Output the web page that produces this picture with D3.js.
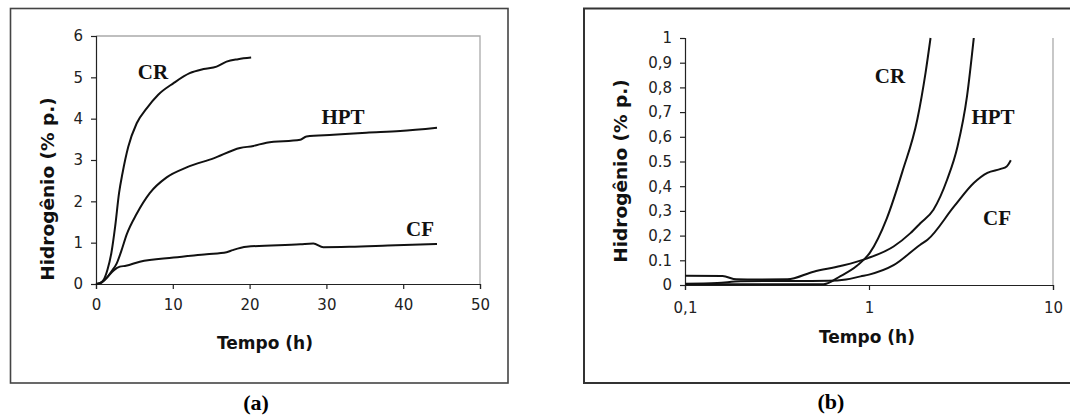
<!DOCTYPE html>
<html><head><meta charset="utf-8">
<script src="https://cdn.jsdelivr.net/npm/d3@7"></script>
<style>body{margin:0;background:#fff}svg{display:block}</style>
</head><body>
<svg id="c" width="1070" height="417"></svg>
<script>
// ---- Data (a): linear time axis ----
const aTicksX = [0, 10, 20, 30, 40, 50];
const aTicksY = [0, 1, 2, 3, 4, 5, 6];
const aCR_t = [0, 0.5, 1.0, 1.5, 2.0, 2.5, 3.0, 3.45, 4.2, 5.3, 6.6, 8.1, 10.1, 12.2, 14.0, 15.7, 17.0, 18.5, 20.2];
const aCR_h = [0, 0.02, 0.1, 0.35, 0.75, 1.4, 2.2, 2.68, 3.32, 3.89, 4.25, 4.58, 4.86, 5.1, 5.2, 5.26, 5.38, 5.44, 5.48];
const aHPT_t = [0, 0.5, 1.0, 1.4, 2.0, 2.7, 3.3, 4.0, 5.3, 7.0, 9.2, 11.8, 15.3, 18.75, 20.5, 22.2, 26.6, 27.4, 30.9, 35.2, 39.6, 44.4];
const aHPT_h = [0, 0.02, 0.08, 0.15, 0.3, 0.5, 0.8, 1.2, 1.7, 2.2, 2.58, 2.82, 3.04, 3.29, 3.34, 3.42, 3.49, 3.57, 3.61, 3.66, 3.7, 3.78];
const aCF_t = [0, 0.7, 1.4, 2.3, 3.1, 3.9, 5.7, 10.1, 14.4, 17.0, 17.8, 19.6, 26.6, 28.3, 29.6, 33.1, 38.0, 44.4];
const aCF_h = [0, 0.03, 0.15, 0.33, 0.42, 0.44, 0.54, 0.64, 0.72, 0.77, 0.82, 0.9, 0.96, 0.98, 0.89, 0.9, 0.93, 0.97];

// ---- Data (b): log time axis ----
const bTicksX = [0.1, 1, 10];
const bTicksXLabels = ["0,1", "1", "10"];
const bTicksY = [0, 0.1, 0.2, 0.3, 0.4, 0.5, 0.6, 0.7, 0.8, 0.9, 1];
const bTicksYLabels = ["0", "0.1", "0,2", "0,3", "0,4", "0.5", "0,6", "0,7", "0,8", "0,9", "1"];
const bHPT_t = [0.1, 0.16, 0.19, 0.25, 0.36, 0.5, 0.7, 0.98, 1.36, 1.68, 1.9, 2.24, 2.66, 3.03, 3.41, 3.71];
const bHPT_h = [0.037, 0.036, 0.023, 0.022, 0.023, 0.054, 0.077, 0.108, 0.156, 0.21, 0.25, 0.305, 0.427, 0.562, 0.765, 1.0];
const bCR_t = [0.1, 0.3, 0.566, 0.7, 0.86, 1.01, 1.25, 1.52, 1.83, 2.03, 2.16];
const bCR_h = [0.003, 0.003, 0.003, 0.036, 0.078, 0.13, 0.27, 0.46, 0.67, 0.86, 1.0];
const bCF_t = [0.1, 0.15, 0.2, 0.3, 0.6, 0.75, 0.9, 1.0, 1.36, 1.9, 2.08, 2.9, 3.71, 4.4, 5.2, 5.6, 5.9];
const bCF_h = [0.005, 0.008, 0.015, 0.016, 0.017, 0.022, 0.035, 0.042, 0.08, 0.163, 0.183, 0.318, 0.413, 0.454, 0.47, 0.48, 0.505];

const svg = d3.select("#c");
const sans = "DejaVu Sans, Verdana, sans-serif";
const serif = "Liberation Serif, Times New Roman, serif";

function series(t, h) { return t.map((v, i) => [v, h[i]]); }

// ---------- Panel (a) ----------
svg.append("rect").attr("x", 10.5).attr("y", 8.5).attr("width", 497.5).attr("height", 374.5)
  .attr("fill", "none").attr("stroke", "#444").attr("stroke-width", 1.6);

const xA = d3.scaleLinear([0, 50], [96, 480]);
const yA = d3.scaleLinear([0, 6], [284, 36]);

svg.append("path").attr("d", `M${xA(0)},${yA(6)}H${xA(50)}V${yA(0)}`)
  .attr("fill", "none").attr("stroke", "#aaa").attr("stroke-width", 1.3);

const axA_y = svg.append("g").attr("transform", `translate(${xA(0)},0)`)
  .call(d3.axisLeft(yA).tickValues(aTicksY).tickSize(5).tickPadding(8).tickFormat(d3.format("d")));
const axA_x = svg.append("g").attr("transform", `translate(0,${yA(0)})`)
  .call(d3.axisBottom(xA).tickValues(aTicksX).tickSize(5).tickPadding(10).tickFormat(d3.format("d")));

[axA_y, axA_x].forEach(g => {
  g.selectAll("path,line").attr("stroke", "#222").attr("stroke-width", 1.2);
  g.selectAll("text").attr("font-family", sans).attr("font-size", 15).attr("fill", "#222");
});

const lineA = d3.line().x(d => xA(d[0])).y(d => yA(d[1])).curve(d3.curveMonotoneX);
[[aCR_t, aCR_h], [aHPT_t, aHPT_h], [aCF_t, aCF_h]].forEach(([t, h]) => {
  svg.append("path").datum(series(t, h)).attr("d", lineA)
    .attr("fill", "none").attr("stroke", "#111").attr("stroke-width", 2);
});

const lab = (x, y, s) => svg.append("text").attr("x", x).attr("y", y).attr("text-anchor", "middle")
  .attr("font-family", serif).attr("font-weight", "bold").attr("font-size", 21).attr("fill", "#111").text(s);
lab(153, 79, "CR"); lab(343, 124, "HPT"); lab(420, 236, "CF");

svg.append("text").attr("transform", "translate(54,189) rotate(-90)").attr("text-anchor", "middle")
  .attr("font-family", sans).attr("font-weight", "bold").attr("font-size", 18.5).attr("fill", "#111")
  .text("Hidrogênio (% p.)");
svg.append("text").attr("x", 265).attr("y", 349).attr("text-anchor", "middle")
  .attr("font-family", sans).attr("font-weight", "bold").attr("font-size", 17).attr("fill", "#111")
  .text("Tempo (h)");
svg.append("text").attr("x", 256).attr("y", 410).attr("text-anchor", "middle")
  .attr("font-family", serif).attr("font-weight", "bold").attr("font-size", 22).text("(a)");

// ---------- Panel (b) ----------
svg.append("rect").attr("x", 584).attr("y", 8.5).attr("width", 500).attr("height", 374.5)
  .attr("fill", "none").attr("stroke", "#333").attr("stroke-width", 2);

const xB = d3.scaleLog([0.1, 10], [685, 1053]);
const yB = d3.scaleLinear([0, 1], [285, 38]);

svg.append("path").attr("d", `M${xB(10)},${yB(1)}V${yB(0)}`)
  .attr("fill", "none").attr("stroke", "#aaa").attr("stroke-width", 1.3);

const axB_y = svg.append("g").attr("transform", `translate(${xB(0.1)},0)`)
  .call(d3.axisLeft(yB).tickValues(bTicksY).tickSize(5).tickPadding(8)
    .tickFormat((d, i) => bTicksYLabels[i]));
const axB_x = svg.append("g").attr("transform", `translate(0,${yB(0)})`)
  .call(d3.axisBottom(xB).tickValues(bTicksX).tickSize(5).tickPadding(12)
    .tickFormat((d, i) => bTicksXLabels[i]));
[axB_y, axB_x].forEach(g => {
  g.selectAll("path,line").attr("stroke", "#222").attr("stroke-width", 1.2);
  g.selectAll("text").attr("font-family", sans).attr("font-size", 15).attr("fill", "#222");
});

svg.append("clipPath").attr("id", "clipB").append("rect")
  .attr("x", xB(0.1)).attr("y", yB(1) - 1).attr("width", xB(10) - xB(0.1)).attr("height", yB(0) - yB(1) + 2);

const lineB = d3.line().x(d => xB(d[0])).y(d => yB(d[1])).curve(d3.curveMonotoneX);
[[bCR_t, bCR_h], [bHPT_t, bHPT_h], [bCF_t, bCF_h]].forEach(([t, h]) => {
  svg.append("path").datum(series(t, h)).attr("d", lineB).attr("clip-path", "url(#clipB)")
    .attr("fill", "none").attr("stroke", "#111").attr("stroke-width", 2);
});

lab(890, 83, "CR"); lab(993, 124, "HPT"); lab(997, 225, "CF");

svg.append("text").attr("transform", "translate(627,171) rotate(-90)").attr("text-anchor", "middle")
  .attr("font-family", sans).attr("font-weight", "bold").attr("font-size", 18.5).attr("fill", "#111")
  .text("Hidrogênio (% p.)");
svg.append("text").attr("x", 867).attr("y", 343).attr("text-anchor", "middle")
  .attr("font-family", sans).attr("font-weight", "bold").attr("font-size", 17).attr("fill", "#111")
  .text("Tempo (h)");
svg.append("text").attr("x", 831).attr("y", 409).attr("text-anchor", "middle")
  .attr("font-family", serif).attr("font-weight", "bold").attr("font-size", 22).text("(b)");
</script>
</body></html>
